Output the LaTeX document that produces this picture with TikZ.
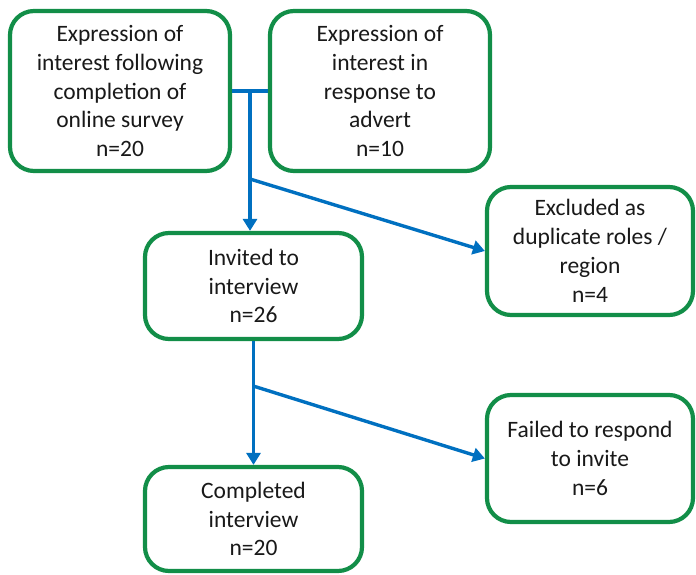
\documentclass[tikz,border=0pt]{standalone}
\usepackage{fontspec}
\setmainfont{Carlito}
\usetikzlibrary{arrows.meta,calc}
\definecolor{boxgreen}{RGB}{18,142,72}
\definecolor{flowblue}{RGB}{0,112,192}
\begin{document}
\begin{tikzpicture}[x=1pt,y=-1pt,
  stagebox/.style={draw=boxgreen,line width=4.2pt,rounded corners=24pt,fill=white,
    align=center,inner sep=0pt,font=\fontsize{23.5}{28.8}\selectfont,text=black!90},
  flow/.style={draw=flowblue,line width=3.4pt},
  flowarrow/.style={flow,-{Triangle[width=14pt,length=12pt]}}]
\useasboundingbox (0,0) rectangle (696,575);

\node[stagebox,minimum width=220pt,minimum height=160pt] (survey) at (120,91)
  {Expression of\\interest following\\completion of\\online survey\\n=20};
\node[stagebox,minimum width=220pt,minimum height=160pt] (advert) at (380,91)
  {Expression of\\interest in\\response to\\advert\\n=10};
\node[stagebox,minimum width=217pt,minimum height=106pt] (invited) at (253.5,286)
  {Invited to\\interview\\n=26};
\node[stagebox,minimum width=206pt,minimum height=128pt] (excluded) at (590,251)
  {Excluded as\\duplicate roles /\\region\\n=4};
\node[stagebox,minimum width=206pt,minimum height=127pt] (failed) at (590,458.5)
  {Failed to respond\\to invite\\n=6};
\node[stagebox,minimum width=217pt,minimum height=104pt] (completed) at (253.5,519)
  {Completed\\interview\\n=20};

% merge of the two sources
\draw[flow] (survey.east) -- (advert.west);
\coordinate (merge) at ($(survey.east)!0.5!(advert.west)$);
\draw[flowarrow] (merge) -- (merge |- invited.north);
\coordinate (split1) at ($(merge)+(0,88)$);
\draw[flowarrow] (split1) -- (excluded.west);

% invited to completed
\draw[flowarrow] (invited.south) -- (completed.north);
\coordinate (split2) at ($(invited.south)+(0,45)$);
\draw[flowarrow] (split2) -- (failed.west);
\end{tikzpicture}
\end{document}
